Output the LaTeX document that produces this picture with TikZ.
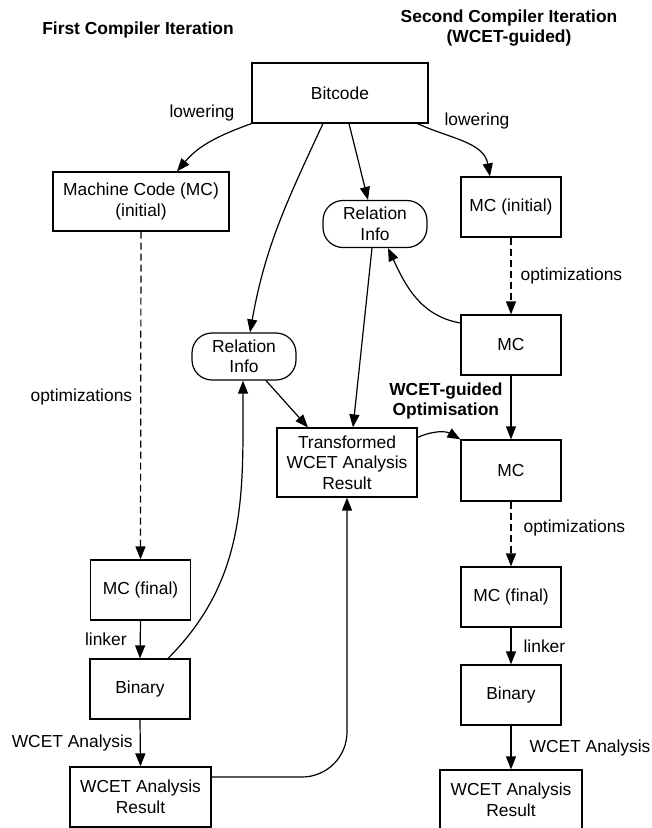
\documentclass[tikz,border=0pt]{standalone}
\usepackage{fontspec}
\setmainfont{Liberation Sans}
\usetikzlibrary{arrows.meta}

\newcommand{\diagfont}{\fontsize{17.4}{20.5}\selectfont}

\tikzset{
  box/.style={draw, line width=1.2pt, inner sep=0pt, align=center, minimum width=100pt, minimum height=60pt},
  relbox/.style={box, rounded corners=20pt, minimum width=104pt, minimum height=47pt},
  lbl/.style={inner sep=3pt, align=center},
  heading/.style={align=center, font=\diagfont\bfseries},
  flow/.style={-{Triangle[length=13pt,width=10pt]}, line width=1.2pt},
  opt/.style={flow, dash pattern=on 7pt off 4pt},
}

\begin{document}
\begin{tikzpicture}[x=1pt, y=1pt, font=\diagfont]
    \useasboundingbox (0,0) rectangle (652,-828);

    % Headings
    \node[heading] (firsthead) at (138,-30) {First Compiler Iteration};
    \node[heading] (secondhead) at (509,-28) {Second Compiler Iteration\\(WCET-guided)};

    % Define nodes
    \node[box, minimum width=176pt] (bitcode) at (340,-93) {Bitcode};
    \node[box, minimum width=176pt, minimum height=59pt] (mcinitA) at (141,-201.5) {Machine Code (MC)\\(initial)};
    \node[relbox] (relB) at (375,-224) {Relation\\Info};
    \node[relbox] (relA) at (244,-356.5) {Relation\\Info};
    \node[box, minimum width=140pt, minimum height=69pt] (trans) at (347,-462.5) {Transformed\\WCET Analysis\\Result};
    \node[box] (mcfinA) at (140.5,-590) {MC (final)};
    \node[box] (binA) at (140,-689) {Binary};
    \node[box, minimum width=141pt] (resA) at (140.5,-797) {WCET Analysis\\Result};
    \node[box] (mcinitB) at (511,-207) {MC (initial)};
    \node[box] (mcB) at (511,-345) {MC};
    \node[box, minimum height=61pt] (mcoptB) at (511,-470.5) {MC};
    \node[box] (mcfinB) at (511,-597) {MC (final)};
    \node[box] (binB) at (511,-695) {Binary};
    \node[box, minimum width=142pt] (resB) at (511,-800) {WCET Analysis\\Result};

    \node[lbl] (lowA) at (202,-113) {lowering};
    \node[lbl] (lowB) at (477,-121) {lowering};

    % Draw edges
    \draw[flow] (bitcode.south west) to[out=200, in=50] ([xshift=36pt]mcinitA.north);
    \draw[flow] ([xshift=-17pt]bitcode.south) to[out=-115, in=80] ([xshift=6pt]relA.north);
    \draw[flow] ([xshift=9pt]bitcode.south) -- ([xshift=-7pt]relB.north);
    \draw[flow] ([xshift=-11pt]bitcode.south east) to[out=-25, in=100] ([xshift=-21pt]mcinitB.north);

    % first iteration
    \draw[opt] (mcinitA.south) -- node[lbl, left=5pt, pos=0.505] {optimizations} (mcfinA.north);
    \draw[flow] (mcfinA.south) -- node[lbl, left=10pt] {linker} (binA.north);
    \draw[flow] (binA.south) -- node[lbl, left=4pt] {WCET Analysis} (resA.north);
    \draw[flow] ([xshift=28pt]binA.north) to[out=45, in=-90] ([xshift=-1pt]relA.south);
    \draw[flow] ([xshift=22pt]relA.south) -- ([xshift=-39pt]trans.north);
    \draw[flow] ([xshift=-3pt]relB.south) -- ([xshift=6pt]trans.north);
    \draw[flow, rounded corners=45pt] ([yshift=20pt]resA.east) -| (trans.south);

    % second iteration
    \draw[opt] (mcinitB.south) -- node[lbl, right=6pt] {optimizations} (mcB.north);
    \draw[flow] ([yshift=22pt]mcB.west) to[out=170, in=-65] ([xshift=13pt]relB.south);
    \draw[flow] (mcB.south) -- node[lbl, left=5pt, pos=0.4, font=\diagfont\bfseries] {WCET-guided\\Optimisation} (mcoptB.north);
    \draw[flow] ([yshift=25pt]trans.east) to[out=25, in=150] (mcoptB.north west);
    \draw[opt] (mcoptB.south) -- node[lbl, right=9pt, pos=0.4] {optimizations} (mcfinB.north);
    \draw[flow] (mcfinB.south) -- node[lbl, right=9pt] {linker} (binB.north);
    \draw[flow] (binB.south) -- node[lbl, right=15pt] {WCET Analysis} (resB.north);
\end{tikzpicture}
\end{document}
